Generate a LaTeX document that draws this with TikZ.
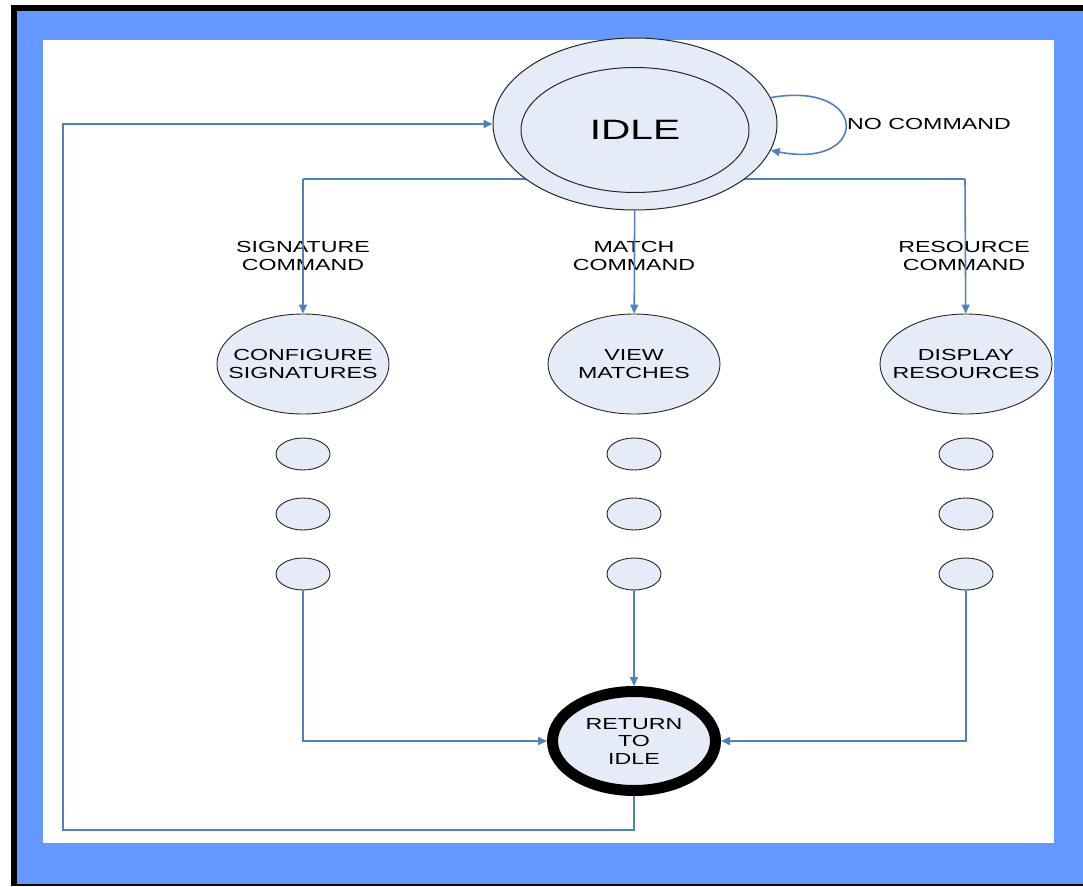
\documentclass[tikz,border=0pt]{standalone}
\usepackage{fontspec}
\setmainfont{Liberation Sans}[FakeStretch=1.45]
\usetikzlibrary{arrows.meta,shapes.geometric,positioning}
\definecolor{frameblue}{HTML}{6699FF}
\definecolor{linkblue}{HTML}{4F81BD}
\definecolor{statefill}{HTML}{E6ECF7}

\begin{document}
\begin{tikzpicture}[x=1pt,y=-1pt,
  lbl/.style={align=center, inner sep=0pt, font=\fontsize{16}{17.5}\selectfont},
  state/.style={ellipse, draw=black!85, line width=0.9pt, fill=statefill, minimum width=172pt, minimum height=100pt, inner sep=0pt, label={[lbl]center:{#1}}},
  dot/.style={ellipse, draw=black!85, line width=0.9pt, fill=statefill, minimum width=54pt, minimum height=32pt, inner sep=0pt},
  link/.style={draw=linkblue, line width=1.6pt},
  arrow/.style={link, -{Triangle[length=9pt,width=8pt]}}
]
  \useasboundingbox (0,0) rectangle (1083,886);
  \fill[white] (0,0) rectangle (1083,886);
  \fill[black] (11,5) rectangle (1095,886);
  \fill[frameblue] (17,11) rectangle (1095,884);
  \fill[white] (43,40) rectangle (1054,843);

  \coordinate (sigturn) at (303,179);
  \coordinate (resturn) at (965,179);
  \coordinate (backcorner) at (63,830);
  \draw[link] (sigturn) -- (resturn);

  \node[ellipse, draw=black!85, line width=1pt, fill=statefill, minimum width=284pt, minimum height=172pt] (idle) at (635,124) {};
  \node[ellipse, draw=black!85, line width=1pt, fill=statefill, minimum width=228pt, minimum height=125pt, inner sep=0pt,
        label={[font=\fontsize{28}{30}\selectfont]center:IDLE}] (idlein) at (635,130) {};
  \node[lbl, anchor=west] (nocmd) at (847,124) {NO COMMAND};

  \node[lbl] (sigcmd) at (303,256) {SIGNATURE\\COMMAND};
  \node[lbl] (matchcmd) at (634,256) {MATCH\\COMMAND};
  \node[lbl] (rescmd) at (964,256) {RESOURCE\\COMMAND};

  \node[state={CONFIGURE\\SIGNATURES}] (config) at (303,364) {};
  \node[state={VIEW\\MATCHES}] (view) at (634,364) {};
  \node[state={DISPLAY\\RESOURCES}] (display) at (966,364) {};

  \node[dot] (sigdot1) at (303,454) {};
  \node[dot] (sigdot2) at (303,514) {};
  \node[dot] (sigdot3) at (303,574) {};
  \node[dot] (viewdot1) at (634,454) {};
  \node[dot] (viewdot2) at (634,514) {};
  \node[dot] (viewdot3) at (634,574) {};
  \node[dot] (resdot1) at (966,454) {};
  \node[dot] (resdot2) at (966,514) {};
  \node[dot] (resdot3) at (966,574) {};

  \node[ellipse, draw=black, line width=11pt, fill=statefill, minimum width=163pt, minimum height=99pt, inner sep=0pt,
        label={[lbl]center:{RETURN\\TO\\IDLE}}] (ret) at (634,741) {};

  \draw[arrow] (idle.11) .. controls (870,80) and (870,170) .. (idle.-11);
  \draw[arrow] (sigturn) -- (config);
  \draw[arrow] (idle) -- (view);
  \draw[arrow] (resturn) -- (display);

  \draw[arrow] (sigdot3) |- (ret);
  \draw[arrow] (viewdot3) -- (ret);
  \draw[arrow] (resdot3) |- (ret);
  \draw[arrow] (ret) |- (backcorner) |- (idle);
\end{tikzpicture}
\end{document}
